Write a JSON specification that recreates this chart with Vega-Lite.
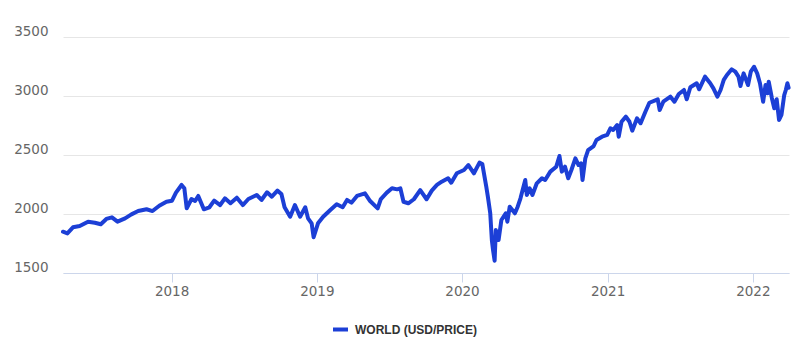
{
 "$schema": "https://vega.github.io/schema/vega-lite/v6.json",
 "width": 726, "height": 236,
 "autosize": {"type": "none"},
 "padding": {"left": 63, "top": 37, "right": 11, "bottom": 72},
 "background": "white",
 "config": {"view": {"stroke": null}, "font": "DejaVu Sans"},
 "data": {"values": [
  {"date":"2017-04-03","value":1850},{"date":"2017-04-14","value":1836},{"date":"2017-04-28","value":1887},{"date":"2017-05-15","value":1898},
  {"date":"2017-06-05","value":1935},{"date":"2017-06-22","value":1926},{"date":"2017-07-07","value":1913},{"date":"2017-07-21","value":1958},
  {"date":"2017-08-04","value":1972},{"date":"2017-08-18","value":1935},{"date":"2017-09-06","value":1963},{"date":"2017-09-22","value":1997},
  {"date":"2017-10-09","value":2025},{"date":"2017-10-30","value":2040},{"date":"2017-11-14","value":2025},{"date":"2017-12-01","value":2070},
  {"date":"2017-12-19","value":2104},{"date":"2018-01-02","value":2113},{"date":"2018-01-12","value":2181},{"date":"2018-01-26","value":2246},
  {"date":"2018-02-02","value":2218},{"date":"2018-02-08","value":2048},{"date":"2018-02-20","value":2127},{"date":"2018-03-01","value":2110},
  {"date":"2018-03-09","value":2153},{"date":"2018-03-23","value":2040},{"date":"2018-04-06","value":2057},{"date":"2018-04-18","value":2113},
  {"date":"2018-05-03","value":2076},{"date":"2018-05-15","value":2133},{"date":"2018-05-29","value":2091},{"date":"2018-06-14","value":2138},
  {"date":"2018-06-29","value":2076},{"date":"2018-07-13","value":2127},{"date":"2018-08-03","value":2161},{"date":"2018-08-15","value":2119},
  {"date":"2018-08-29","value":2184},{"date":"2018-09-10","value":2147},{"date":"2018-09-24","value":2198},{"date":"2018-10-04","value":2170},
  {"date":"2018-10-12","value":2057},{"date":"2018-10-26","value":1977},{"date":"2018-11-07","value":2076},{"date":"2018-11-20","value":1977},
  {"date":"2018-12-03","value":2057},{"date":"2018-12-10","value":1963},{"date":"2018-12-19","value":1921},{"date":"2018-12-24","value":1803},
  {"date":"2019-01-04","value":1921},{"date":"2019-01-17","value":1977},{"date":"2019-02-04","value":2034},{"date":"2019-02-20","value":2082},
  {"date":"2019-03-07","value":2057},{"date":"2019-03-18","value":2119},{"date":"2019-03-29","value":2096},{"date":"2019-04-12","value":2153},
  {"date":"2019-05-02","value":2175},{"date":"2019-05-15","value":2110},{"date":"2019-06-03","value":2048},{"date":"2019-06-11","value":2127},
  {"date":"2019-06-26","value":2181},{"date":"2019-07-09","value":2218},{"date":"2019-07-22","value":2209},{"date":"2019-07-30","value":2218},
  {"date":"2019-08-07","value":2104},{"date":"2019-08-19","value":2091},{"date":"2019-09-02","value":2125},{"date":"2019-09-18","value":2203},
  {"date":"2019-10-04","value":2125},{"date":"2019-10-17","value":2198},{"date":"2019-10-30","value":2246},{"date":"2019-11-11","value":2274},
  {"date":"2019-11-27","value":2303},{"date":"2019-12-05","value":2265},{"date":"2019-12-19","value":2345},{"date":"2020-01-06","value":2373},
  {"date":"2020-01-17","value":2415},{"date":"2020-01-31","value":2345},{"date":"2020-02-14","value":2435},{"date":"2020-02-21","value":2424},
  {"date":"2020-03-02","value":2232},{"date":"2020-03-06","value":2147},{"date":"2020-03-12","value":2006},{"date":"2020-03-16","value":1780},
  {"date":"2020-03-19","value":1695},{"date":"2020-03-23","value":1604},{"date":"2020-03-26","value":1864},{"date":"2020-04-02","value":1780},
  {"date":"2020-04-09","value":1949},{"date":"2020-04-20","value":2006},{"date":"2020-04-24","value":1935},{"date":"2020-04-30","value":2062},
  {"date":"2020-05-13","value":2006},{"date":"2020-05-20","value":2062},{"date":"2020-05-27","value":2133},{"date":"2020-06-08","value":2288},
  {"date":"2020-06-12","value":2161},{"date":"2020-06-19","value":2218},{"date":"2020-06-26","value":2161},{"date":"2020-07-07","value":2260},
  {"date":"2020-07-20","value":2303},{"date":"2020-07-28","value":2288},{"date":"2020-08-10","value":2359},{"date":"2020-08-25","value":2401},
  {"date":"2020-09-02","value":2492},{"date":"2020-09-08","value":2359},{"date":"2020-09-16","value":2401},{"date":"2020-09-24","value":2303},
  {"date":"2020-10-02","value":2373},{"date":"2020-10-12","value":2472},{"date":"2020-10-20","value":2415},{"date":"2020-10-26","value":2430},
  {"date":"2020-10-30","value":2288},{"date":"2020-11-06","value":2472},{"date":"2020-11-13","value":2542},{"date":"2020-11-27","value":2576},
  {"date":"2020-12-04","value":2627},{"date":"2020-12-18","value":2655},{"date":"2020-12-31","value":2670},{"date":"2021-01-08","value":2726},
  {"date":"2021-01-15","value":2712},{"date":"2021-01-25","value":2754},{"date":"2021-01-29","value":2655},{"date":"2021-02-05","value":2782},
  {"date":"2021-02-16","value":2825},{"date":"2021-02-25","value":2782},{"date":"2021-03-04","value":2706},{"date":"2021-03-16","value":2811},
  {"date":"2021-03-25","value":2769},{"date":"2021-04-06","value":2867},{"date":"2021-04-16","value":2943},{"date":"2021-05-07","value":2972},
  {"date":"2021-05-12","value":2881},{"date":"2021-05-21","value":2952},{"date":"2021-06-08","value":2994},{"date":"2021-06-18","value":2952},
  {"date":"2021-06-29","value":3017},{"date":"2021-07-12","value":3051},{"date":"2021-07-19","value":2972},{"date":"2021-07-28","value":3074},
  {"date":"2021-08-13","value":3108},{"date":"2021-08-19","value":3057},{"date":"2021-09-03","value":3164},{"date":"2021-09-16","value":3108},
  {"date":"2021-09-24","value":3065},{"date":"2021-10-04","value":2994},{"date":"2021-10-12","value":3051},{"date":"2021-10-20","value":3136},
  {"date":"2021-10-28","value":3178},{"date":"2021-11-09","value":3226},{"date":"2021-11-18","value":3206},{"date":"2021-11-26","value":3164},
  {"date":"2021-12-01","value":3085},{"date":"2021-12-09","value":3192},{"date":"2021-12-20","value":3093},{"date":"2021-12-27","value":3206},
  {"date":"2022-01-04","value":3248},{"date":"2022-01-12","value":3192},{"date":"2022-01-19","value":3108},{"date":"2022-01-27","value":2952},
  {"date":"2022-02-02","value":3093},{"date":"2022-02-07","value":3023},{"date":"2022-02-10","value":3121},{"date":"2022-02-18","value":2981},
  {"date":"2022-02-24","value":2896},{"date":"2022-03-02","value":2972},{"date":"2022-03-08","value":2797},{"date":"2022-03-14","value":2839},
  {"date":"2022-03-21","value":3008},{"date":"2022-03-25","value":3051},{"date":"2022-03-29","value":3108},{"date":"2022-04-01","value":3070}
 ]},
 "mark": {"type": "line", "strokeWidth": 4, "strokeJoin": "round", "strokeCap": "round"},
 "encoding": {
  "x": {"field": "date", "type": "temporal",
   "scale": {"domain": [{"year": 2017, "month": 4, "date": 3}, {"year": 2022, "month": 4, "date": 2}]},
   "axis": {"title": null, "format": "%Y", "tickCount": {"interval": "year", "step": 1}, "grid": false, "zindex": 1,
    "domainColor": "#ccd6eb", "tickColor": "#ccd6eb", "tickSize": 9, "labelFont": "DejaVu Sans", "labelFontSize": 13.5,
    "labelColor": "#666666", "labelPadding": 2, "labelFlush": false}},
  "y": {"field": "value", "type": "quantitative",
   "scale": {"domain": [1500, 3500], "nice": false, "zero": false},
   "axis": {"title": null, "values": [1500, 2000, 2500, 3000, 3500], "format": "d", "grid": true, "gridColor": "#e6e6e6", "domain": false, "ticks": false,
    "labelPadding": 15, "labelBaseline": "alphabetic", "labelOffset": -2, "labelFont": "DejaVu Sans", "labelFontSize": 13.5, "labelColor": "#666666"}},
  "color": {"datum": "WORLD (USD/PRICE)", "type": "nominal", "scale": {"range": ["#1c3fd6"]},
   "legend": {"title": null, "orient": "none", "legendX": 268, "legendY": 283, "symbolType": "stroke", "symbolSize": 225,
    "symbolStrokeWidth": 4, "labelFont": "Liberation Sans", "labelFontSize": 12, "labelFontWeight": "bold", "labelColor": "#333333",
    "labelOffset": 5, "padding": 0}}
 }
}
